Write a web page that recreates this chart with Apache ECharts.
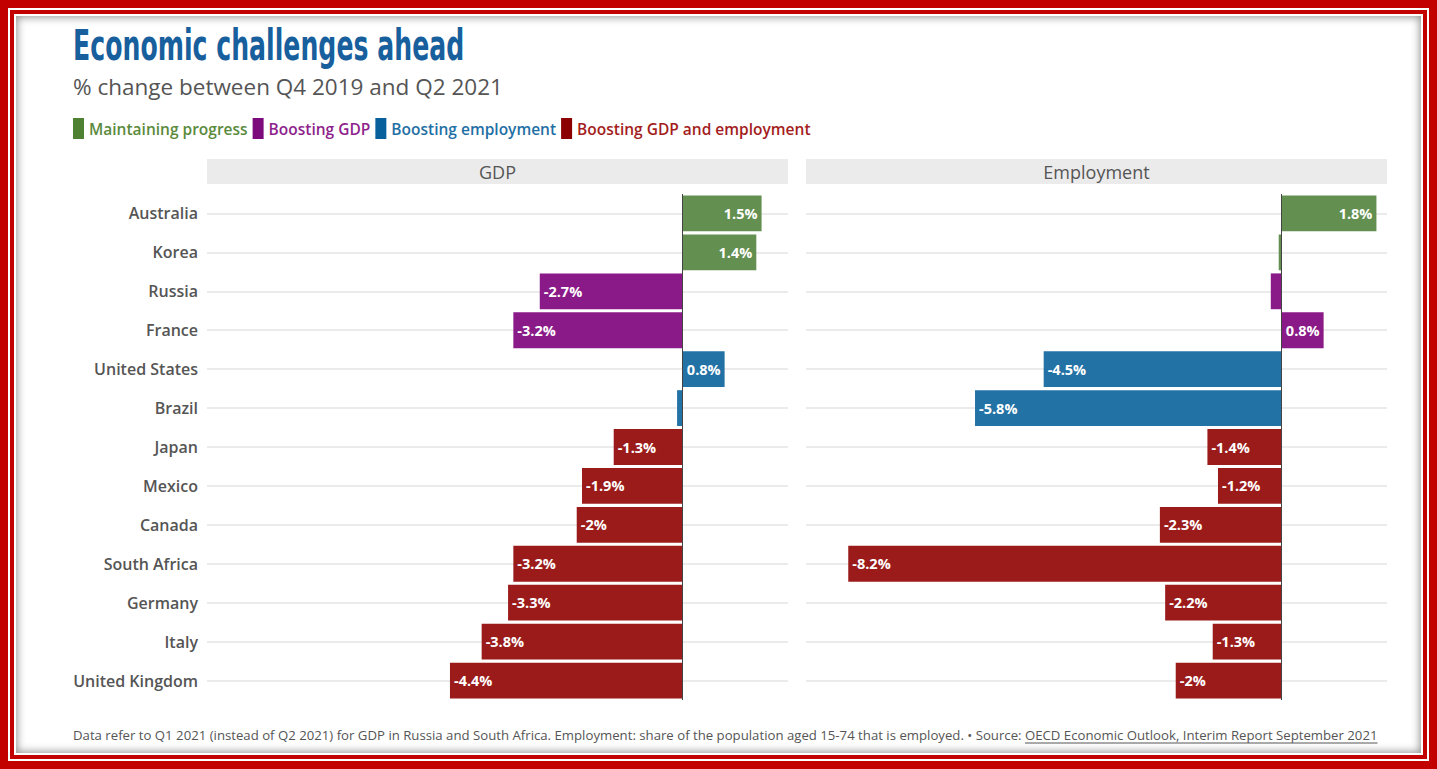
<!DOCTYPE html>
<html>
<head>
<meta charset="utf-8">
<script src="https://cdn.jsdelivr.net/npm/echarts@6/dist/echarts.min.js"></script>
<style>
html,body{margin:0;padding:0;width:1437px;height:769px;overflow:hidden;background:#c20000;}
#panel{position:absolute;left:16px;top:16px;width:1405px;height:737px;background:#fff;
 box-shadow:0 0 0 2px #fff,0 0 0 6px #c20000,0 0 0 8px #fff,inset 0 0 9px 1px rgba(0,0,0,0.45);}
#chart{position:absolute;left:0;top:0;width:1437px;height:769px;}
</style>
</head>
<body>
<div id="panel"></div>
<div id="chart"></div>
<script>
// ---- data ----
const categories = ['Australia','Korea','Russia','France','United States','Brazil','Japan','Mexico','Canada','South Africa','Germany','Italy','United Kingdom'];
const gdpValues = [1.5, 1.4, -2.7, -3.2, 0.8, -0.1, -1.3, -1.9, -2, -3.2, -3.3, -3.8, -4.4];
const employmentValues = [1.8, -0.05, -0.2, 0.8, -4.5, -5.8, -1.4, -1.2, -2.3, -8.2, -2.2, -1.3, -2];
const countryGroups = ['Maintaining progress','Maintaining progress','Boosting GDP','Boosting GDP','Boosting employment','Boosting employment',
  'Boosting GDP and employment','Boosting GDP and employment','Boosting GDP and employment','Boosting GDP and employment',
  'Boosting GDP and employment','Boosting GDP and employment','Boosting GDP and employment'];
const groupNames = ['Maintaining progress','Boosting GDP','Boosting employment','Boosting GDP and employment'];
const panelTitles = ['GDP','Employment'];
const titleText = 'Economic challenges ahead';
const subtitleText = '% change between Q4 2019 and Q2 2021';
const noteText = 'Data refer to Q1 2021 (instead of Q2 2021) for GDP in Russia and South Africa. Employment: share of the population aged 15-74 that is employed. \u2022 Source: ';
const sourceText = 'OECD Economic Outlook, Interim Report September 2021';

// ---- styles ----
const barColors = ['#638f50','#8a1a88','#2272a6','#9b1b1b'];
const legendTextColors = ['#5a8a3c','#8e1f8c','#1f6fa5','#a31d1d'];
const legendIconColors = ['#4f8133','#7d0a7d','#075f9c','#8b0000'];
const FONT = '"Open Sans", "Noto Sans", sans-serif';
const grids = [{left:207, top:194, width:581, height:506},{left:806, top:194, width:581, height:506}];

const chart = echarts.init(document.getElementById('chart'), null, {renderer:'svg'});

function makeSeries(values, gi){
  return groupNames.map((g, k) => ({
    name: g, type: 'bar', xAxisIndex: gi, yAxisIndex: gi, stack: 'p' + gi,
    barCategoryGap: '8%',
    itemStyle: {color: barColors[k]},
    label: {color:'#fff', fontWeight:'bold', fontSize:14.5, fontFamily:FONT, distance:4,
      formatter: p => p.value + '%'},
    data: values.map((v, i) => countryGroups[i] === g ? {
      value: v,
      label: {show: Math.abs(v) >= 0.5, position: v >= 0 ? 'insideRight' : 'insideLeft'}
    } : '-'),
    markLine: k === 3 ? {silent:true, symbol:['none','none'], label:{show:false},
      lineStyle:{color:'#444', width:1, type:'solid'}, data:[{xAxis:0}]} : undefined
  }));
}

const legendData = groupNames.map((g, k) => ({
  name: g, itemStyle:{color: legendIconColors[k]},
  textStyle:{color: legendTextColors[k], fontWeight:600, fontSize:15.5, fontFamily:FONT}
}));

// measure footer widths for the source underline
const ctx = document.createElement('canvas').getContext('2d');
const footFont = '13.2px ' + FONT;
ctx.font = footFont;
const noteW = ctx.measureText(noteText).width;
const srcW = ctx.measureText(sourceText).width;
const footX = 73;

const graphic = [
  {type:'text', x:73, y:24, scaleY:1.5, style:{text:titleText, font:'bold 28px "Liberation Sans Narrow", "DejaVu Sans Condensed", "Roboto Condensed", sans-serif', fill:'#17609d', textVerticalAlign:'top'}},
  {type:'text', x:73, y:86, style:{text:subtitleText, font:'22.5px ' + FONT, fill:'#555', textVerticalAlign:'middle'}},
  {type:'text', x:footX, y:735, style:{text:noteText, font:footFont, fill:'#555', textVerticalAlign:'middle'}},
  {type:'text', x:footX + noteW, y:735, style:{text:sourceText, font:footFont, fill:'#555', textVerticalAlign:'middle'}},
  {type:'line', shape:{x1:footX + noteW, y1:743, x2:footX + noteW + srcW, y2:743}, style:{stroke:'#555', lineWidth:1}}
];
grids.forEach((g, i) => {
  graphic.push({type:'rect', shape:{x:g.left, y:159, width:g.width, height:25}, style:{fill:'#ebebeb'}, z:-1});
  graphic.push({type:'text', x:g.left + g.width/2, y:171.5, style:{text:panelTitles[i], font:'18px ' + FONT, fill:'#555', textAlign:'center', textVerticalAlign:'middle'}});
});

const option = {
  animation: false,
  legend: {left:68, top:113, itemWidth:11, itemHeight:21, itemGap:5, icon:'rect', data: legendData, selectedMode:false},
  grid: grids,
  xAxis: grids.map((g, i) => ({type:'value', gridIndex:i, min:-9, max:2, show:false})),
  yAxis: grids.map((g, i) => ({
    type:'category', gridIndex:i, data:categories, inverse:true,
    axisLine:{show:false, onZero:false},
    axisTick:{show:true, inside:true, alignWithLabel:true, interval:0, length:g.width, lineStyle:{color:'#ebebeb', width:2}},
    axisLabel:{show:i === 0, interval:0, color:'#555', fontSize:16, fontWeight:600, fontFamily:FONT, margin:9},
    splitLine:{show:false}
  })),
  series: [...makeSeries(gdpValues, 0), ...makeSeries(employmentValues, 1)],
  graphic: graphic
};
chart.setOption(option);
</script>
</body>
</html>
